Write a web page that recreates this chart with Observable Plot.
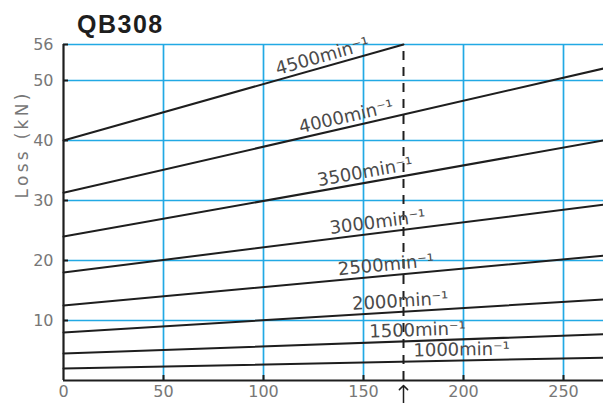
<!DOCTYPE html>
<html><head><meta charset="utf-8">
<script src="https://cdn.jsdelivr.net/npm/d3@7"></script>
<script src="https://cdn.jsdelivr.net/npm/@observablehq/plot@0.6"></script>
<style>
body{margin:0;background:#fff;}
#wrap{position:relative;width:603px;height:403px;overflow:hidden;}
#title{position:absolute;left:77px;top:12px;font:bold 25px/25px "Liberation Sans",Arial,sans-serif;letter-spacing:1.5px;color:#1e1e1e;z-index:2;}
#chart{position:absolute;left:0;top:0;}
</style></head><body>
<div id="wrap"><div id="title"></div><div id="chart"></div></div>
<script>
// ---- data ----
const title = "QB308";
const yLabel = "Loss (kN)";
const unit = "min\u207B\u00B9";
const speeds    = [4500, 4000, 3500, 3000, 2500, 2000, 1500, 1000];
const startX    = [0, 0, 0, 0, 0, 0, 0, 0];
const endX      = [170, 270, 270, 270, 270, 270, 270, 270];
const startLoss = [40, 31.3, 24, 18, 12.5, 8, 4.5, 2];
const endLoss   = [56, 52, 40, 29.3, 20.8, 13.5, 7.7, 3.8];
const labelX    = [107, 118.5, 127.5, 133.5, 137.5, 144.5, 153, 175];
const xTickLabels = [0, 50, 100, 150, 200, 250];
const yTickLabels = [10, 20, 30, 40, 50, 56];
const xGrid = [50, 100, 150, 200, 250];
const yGrid = [10, 20, 30, 40, 50, 56];
const markedX = 170;

// ---- layout / style ----
const W = 603, H = 403, mL = 63, mR = 0, mT = 44, mB = 23;
const xDomain = [0, 270], yDomain = [0, 56];
const blue = "#22a9e4", ink = "#1e1e1e";
const pxX = (W - mL - mR) / (xDomain[1] - xDomain[0]);
const pxY = (H - mT - mB) / (yDomain[1] - yDomain[0]);

const curves = speeds.flatMap((s, i) => [
  {speed: s, x: startX[i], loss: startLoss[i]},
  {speed: s, x: endX[i], loss: endLoss[i]}
]);
const labels = speeds.map((s, i) => {
  const slope = (endLoss[i] - startLoss[i]) / (endX[i] - startX[i]);
  return {
    text: s + unit,
    x: labelX[i],
    loss: startLoss[i] + slope * (labelX[i] - startX[i]),
    angle: -Math.atan(slope * pxY / pxX) * 180 / Math.PI
  };
});

document.getElementById("title").textContent = title;

const svg = Plot.plot({
  width: W, height: H,
  marginLeft: mL, marginRight: mR, marginTop: mT, marginBottom: mB,
  style: {fontFamily: "DejaVu Sans, sans-serif", background: "#fff", overflow: "visible"},
  x: {domain: xDomain, axis: null},
  y: {domain: yDomain, axis: null},
  marks: [
    Plot.ruleX(xGrid, {stroke: blue, strokeWidth: 1.7}),
    Plot.ruleY(yGrid, {stroke: blue, strokeWidth: 1.7}),
    Plot.ruleX([markedX], {y1: 0, y2: endLoss[0], stroke: ink, strokeWidth: 2, strokeDasharray: "9,7"}),
    Plot.line(curves, {x: "x", y: "loss", z: "speed", stroke: ink, strokeWidth: 2}),
    Plot.ruleX(xGrid, {y1: 0, y2: 0, insetTop: -5, stroke: ink, strokeWidth: 2}),
    Plot.ruleY(yGrid, {x1: 0, x2: 0, insetRight: -5, stroke: ink, strokeWidth: 2}),
    Plot.ruleX([0], {stroke: ink, strokeWidth: 2.2}),
    Plot.ruleY([0], {stroke: ink, strokeWidth: 2.2}),
    Plot.vector([markedX], {x: d => d, y: 0, length: 18, rotate: 0, anchor: "end", dy: 5, r: 4, stroke: ink, strokeWidth: 1.5}),
    Plot.text(labels, {x: "x", y: "loss", text: "text", rotate: "angle", textAnchor: "start", lineAnchor: "bottom", dy: -5, fontSize: 18, fill: "#4a4a4a"}),
    Plot.text(xTickLabels, {x: d => d, text: d => String(d), frameAnchor: "bottom", lineAnchor: "top", dy: 5, fontSize: 16, fill: "#777"}),
    Plot.text(yTickLabels, {y: d => d, text: d => String(d), frameAnchor: "left", textAnchor: "end", dx: -10, fontSize: 16, fill: "#777"}),
    Plot.text([yLabel], {text: d => d, frameAnchor: "left", rotate: -90, dx: -40.5, dy: -14, fontSize: 17, fill: "#777"})
  ]
});
d3.select(svg).selectAll("text").filter(function() { return this.textContent === yLabel; }).style("letter-spacing", "3.3px");
document.getElementById("chart").appendChild(svg);
</script>
</body></html>
